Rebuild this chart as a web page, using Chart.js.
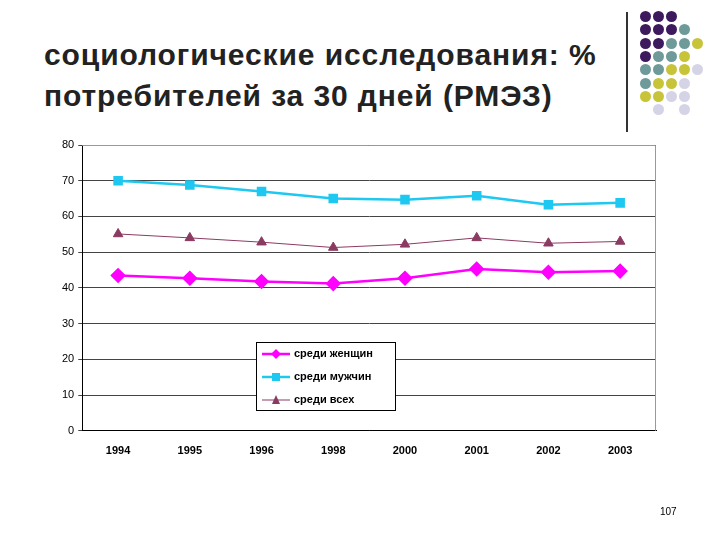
<!DOCTYPE html>
<html><head><meta charset="utf-8">
<script src="https://cdn.jsdelivr.net/npm/chart.js@4"></script>
<style>
body{margin:0;width:720px;height:540px;background:#fff;position:relative;overflow:hidden;font-family:"Liberation Sans",Arial,sans-serif}
#title{position:absolute;left:44px;top:34px;font-size:30px;letter-spacing:0.9px;font-weight:bold;color:#222;line-height:41px}
#vline{position:absolute;left:626px;top:12px;width:2px;height:120px;background:#333}
.dot{position:absolute;width:11px;height:11px;border-radius:50%}
#page{position:absolute;left:660px;top:506px;font-size:10px;color:#000}
#wrap{position:absolute;left:0;top:0;width:720px;height:540px}
</style></head><body>
<div id="title">социологические исследования: %<br>потребителей за 30 дней (РМЭЗ)</div>
<div id="vline"></div>
<div id="dots"></div>
<div id="wrap"><canvas id="c"></canvas></div>
<div id="page">107</div>
<script>
const years = ['1994','1995','1996','1998','2000','2001','2002','2003'];
const women = [43.5, 42.7, 41.8, 41.2, 42.7, 45.3, 44.4, 44.7];
const men = [70, 68.8, 67, 65, 64.7, 65.8, 63.3, 63.8];
const all = [55.1, 54, 52.8, 51.3, 52.2, 54, 52.5, 53];
const yTicks = [0, 10, 20, 30, 40, 50, 60, 70, 80];

// decorative dots: P purple, T teal, Y yellow, L lilac
const dotRows = ['PPP', 'PPPT', 'PPTTY', 'PTTY', 'TTYYL', 'TYYL', 'YYLL', '.L.L'];
const dotColors = { P: '#3d1a5e', T: '#6f9a9a', Y: '#c8c43a', L: '#d4d4e6' };
const dotsEl = document.getElementById('dots');
dotRows.forEach((row, r) => {
    [...row].forEach((ch, c) => {
        if (ch === '.') return;
        const d = document.createElement('div');
        d.className = 'dot';
        d.style.left = (640 + c * 13) + 'px';
        d.style.top = (11 + r * 13.3) + 'px';
        d.style.background = dotColors[ch];
        dotsEl.appendChild(d);
    });
});

const legendPlugin = {
    id: 'boxLegend',
    afterDraw(chart) {
        const ctx = chart.ctx;
        const x = 256, y = 342, w = 139, h = 68;
        ctx.save();
        ctx.fillStyle = '#fff';
        ctx.strokeStyle = '#000';
        ctx.lineWidth = 1;
        ctx.fillRect(x, y, w, h);
        ctx.strokeRect(x + 0.5, y + 0.5, w, h);
        ctx.font = 'bold 11px "Liberation Sans", Arial';
        ctx.textBaseline = 'middle';
        chart.data.datasets.forEach((ds, i) => {
            const cy = y + 12 + i * 23;
            ctx.strokeStyle = ds.borderColor;
            ctx.lineWidth = ds.borderWidth;
            ctx.beginPath(); ctx.moveTo(x + 6, cy); ctx.lineTo(x + 34, cy); ctx.stroke();
            ctx.fillStyle = ds.backgroundColor;
            const cx = x + 20, r = 4;
            ctx.beginPath();
            if (ds.pointStyle === 'rectRot') { ctx.moveTo(cx, cy - r - 1); ctx.lineTo(cx + r + 1, cy); ctx.lineTo(cx, cy + r + 1); ctx.lineTo(cx - r - 1, cy); }
            else if (ds.pointStyle === 'rect') { ctx.rect(cx - r, cy - r, 2 * r, 2 * r); }
            else { ctx.moveTo(cx, cy - r - 1); ctx.lineTo(cx + r, cy + r); ctx.lineTo(cx - r, cy + r); }
            ctx.fill();
            ctx.fillStyle = '#000';
            ctx.fillText(ds.label, x + 38, cy);
        });
        ctx.restore();
    }
};

const plotBorder = {
    id: 'plotBorder',
    beforeDatasetsDraw(chart) {
        const a = chart.chartArea, ctx = chart.ctx;
        ctx.save();
        ctx.strokeStyle = '#999';
        ctx.lineWidth = 1;
        ctx.beginPath();
        ctx.moveTo(a.left, a.top + 0.5); ctx.lineTo(a.right - 0.5, a.top + 0.5); ctx.lineTo(a.right - 0.5, a.bottom);
        ctx.stroke();
        ctx.restore();
    }
};

new Chart(document.getElementById('c'), {
    type: 'line',
    data: {
        labels: years,
        datasets: [
            { label: 'среди женщин', data: women, borderColor: '#ff00ff', backgroundColor: '#ff00ff', borderWidth: 2.5, pointStyle: 'rectRot', pointRadius: 6 },
            { label: 'среди мужчин', data: men, borderColor: '#1ec8f0', backgroundColor: '#1ec8f0', borderWidth: 2.5, pointStyle: 'rect', pointRadius: 5 },
            { label: 'среди всех', data: all, borderColor: '#8b3a62', backgroundColor: '#8b3a62', borderWidth: 1, pointStyle: 'triangle', pointRadius: 5.5 }
        ]
    },
    options: {
        responsive: true, maintainAspectRatio: false, animation: false,
        layout: { padding: { left: 58, right: 64, top: 145, bottom: 76 } },
        plugins: { legend: { display: false }, tooltip: { enabled: false } },
        scales: {
            x: {
                offset: true,
                grid: { display: false, drawTicks: true },
                border: { color: '#000' },
                ticks: { color: '#000', padding: 6, font: { size: 11, weight: 'bold', family: '"Liberation Sans", Arial' } }
            },
            y: {
                min: 0, max: 80,
                afterBuildTicks: s => { s.ticks = yTicks.map(v => ({ value: v })); },
                grid: { color: '#444', lineWidth: 1, tickLength: 4 },
                border: { color: '#000' },
                ticks: { color: '#000', padding: 4, font: { size: 11, family: '"Liberation Sans", Arial' } }
            }
        }
    },
    plugins: [plotBorder, legendPlugin]
});
</script>
</body></html>
